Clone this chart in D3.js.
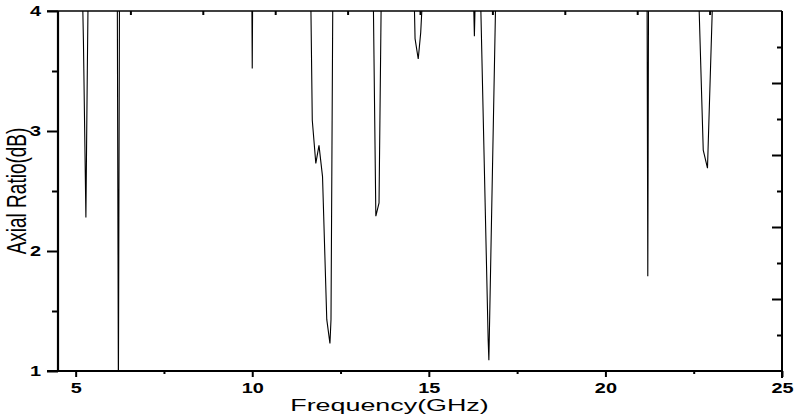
<!DOCTYPE html>
<html>
<head>
<meta charset="utf-8">
<script src="https://cdn.jsdelivr.net/npm/d3@7"></script>
<style>
  body { margin: 0; background: #fff; }
  svg { display: block; }
  text { font-family: 'Liberation Sans', Arial, sans-serif; fill: #000; }
</style>
</head>
<body>
<div id="chart"></div>
<script>
// values (AR above 4 dB is off the top of the plot)
const freq = [
  4.5, 5.0, 5.2, 5.22, 5.29, 5.31, 5.33, 5.35, 5.6,
  6.0, 6.18, 6.21, 6.24, 6.4,
  9.9, 9.99, 10.0, 10.01, 10.1,
  11.4, 11.66, 11.7, 11.8, 11.89, 11.99, 12.11, 12.2, 12.23, 12.28, 12.5,
  13.2, 13.43, 13.5, 13.59, 13.65, 13.9,
  14.4, 14.59, 14.61, 14.7, 14.77, 14.81, 15.2,
  16.1, 16.27, 16.29, 16.31, 16.4,
  16.47, 16.68, 16.7, 16.89, 17.2,
  21.0, 21.18, 21.2, 21.22, 21.4,
  22.4, 22.65, 22.77, 22.89, 23.03, 23.4, 25.0
]
const axialRatio = [
  8, 9, 4.05, 3.75, 2.28, 2.9, 3.5, 4.05, 9,
  9, 4.05, 0.8, 4.05, 9,
  9, 4.05, 3.52, 4.05, 9,
  9, 4.05, 3.09, 2.73, 2.88, 2.62, 1.43, 1.23, 1.43, 4.05, 9,
  9, 4.05, 2.29, 2.4, 4.05, 9,
  9, 4.05, 3.77, 3.6, 3.82, 4.05, 9,
  9, 4.05, 3.79, 4.05, 9,
  4.05, 1.26, 1.09, 4.05, 9,
  9, 4.05, 1.79, 4.05, 9,
  9, 4.05, 2.84, 2.69, 4.05, 9, 9
]
const xTicks = [5, 10, 15, 20, 25]
const xMinorTicks = [7.5, 12.5, 17.5, 22.5]
const yTicks = [1, 2, 3, 4]
const yMinorTicks = [1.5, 2.5, 3.5]
const oppositeTicks = [1, 2, 3, 4, 5, 6, 7, 8, 9]

const width = 795
const height = 417
const margin = { top: 11, right: 13, bottom: 46, left: 58 }
const innerW = width - margin.left - margin.right
const innerH = height - margin.top - margin.bottom

const data = freq.map((f, i) => ({ f: f, v: axialRatio[i] }))

const svg = d3
  .select('#chart')
  .append('svg')
  .attr('width', width)
  .attr('height', height)

const g = svg.append('g').attr('transform', `translate(${margin.left},${margin.top})`)

const x = d3.scaleLinear().domain([4.5, 25]).range([0, innerW])
const y = d3.scaleLinear().domain([1, 4]).range([innerH, 0])
// top and right frame axes have their own 10-step scale
const xTop = d3.scaleLinear().domain([0, 10]).range([0, innerW])
const yRight = d3.scaleLinear().domain([0, 10]).range([innerH, 0])

g.append('clipPath')
  .attr('id', 'clip')
  .append('rect')
  .attr('width', innerW)
  .attr('height', innerH)

const line = d3
  .line()
  .x((d) => x(d.f))
  .y((d) => y(d.v))

g.append('path')
  .datum(data)
  .attr('clip-path', 'url(#clip)')
  .attr('fill', 'none')
  .attr('stroke', '#000')
  .attr('stroke-width', 1.1)
  .attr('d', line)

const sx = 1.42 // the whole figure is stretched sideways, so text is wide

// bottom axis
const xAxis = g
  .append('g')
  .attr('transform', `translate(0,${innerH})`)
  .call(d3.axisBottom(x).tickValues(xTicks).tickSize(6).tickPadding(5.7).tickFormat(d3.format('d')))
xAxis.selectAll('text').attr('transform', `scale(${sx},1)`)
g.append('g')
  .attr('transform', `translate(0,${innerH})`)
  .call(d3.axisBottom(x).tickValues(xMinorTicks).tickSize(3).tickFormat(''))

// left axis
const yAxis = g
  .append('g')
  .call(d3.axisLeft(y).tickValues(yTicks).tickSize(11).tickPadding(6).tickFormat(d3.format('d')))
yAxis
  .selectAll('text')
  .attr('x', -17 / sx)
  .attr('transform', `scale(${sx},1)`)
g.append('g').call(d3.axisLeft(y).tickValues(yMinorTicks).tickSize(6).tickFormat(''))

// top axis, ticks pointing in
g.append('g').call(d3.axisBottom(xTop).tickValues(oppositeTicks).tickSize(4).tickFormat(''))

// right axis, ticks pointing in, alternating length
g.append('g')
  .attr('transform', `translate(${innerW},0)`)
  .call(d3.axisLeft(yRight).tickValues(oppositeTicks.filter((d) => d % 2 === 0)).tickSize(10).tickFormat(''))
g.append('g')
  .attr('transform', `translate(${innerW},0)`)
  .call(d3.axisLeft(yRight).tickValues(oppositeTicks.filter((d) => d % 2 === 1)).tickSize(5).tickFormat(''))

g.selectAll('.domain').remove()
g.selectAll('.tick line').attr('stroke', '#000').attr('stroke-width', 2)
g.selectAll('.tick text')
  .style('font-size', '14px')
  .style('font-weight', 'bold')
  .attr('fill', '#000')

// frame
const frame = g.append('g').attr('stroke', '#000').attr('fill', 'none')
frame.append('line').attr('x1', -11).attr('x2', innerW).attr('y1', y(4)).attr('y2', y(4)).attr('stroke-width', 1.6)
frame.append('line').attr('x1', -11).attr('x2', innerW + 1).attr('y1', y(1)).attr('y2', y(1)).attr('stroke-width', 1.8)
frame.append('line').attr('x1', 0).attr('x2', 0).attr('y1', y(4)).attr('y2', y(1)).attr('stroke-width', 2.2)
frame.append('line').attr('x1', innerW).attr('x2', innerW).attr('y1', y(4)).attr('y2', y(1) + 7).attr('stroke-width', 2)

// axis titles
svg
  .append('text')
  .attr('transform', `translate(389.5,411) scale(1.58,1)`)
  .attr('text-anchor', 'middle')
  .style('font-size', '17px')
  .text('Frequency(GHz)')

svg
  .append('text')
  .attr('transform', `translate(26,${margin.top + innerH / 2}) rotate(-90) scale(1,1.45)`)
  .attr('text-anchor', 'middle')
  .style('font-size', '19px')
  .text('Axial Ratio(dB)')
</script>
</body>
</html>
